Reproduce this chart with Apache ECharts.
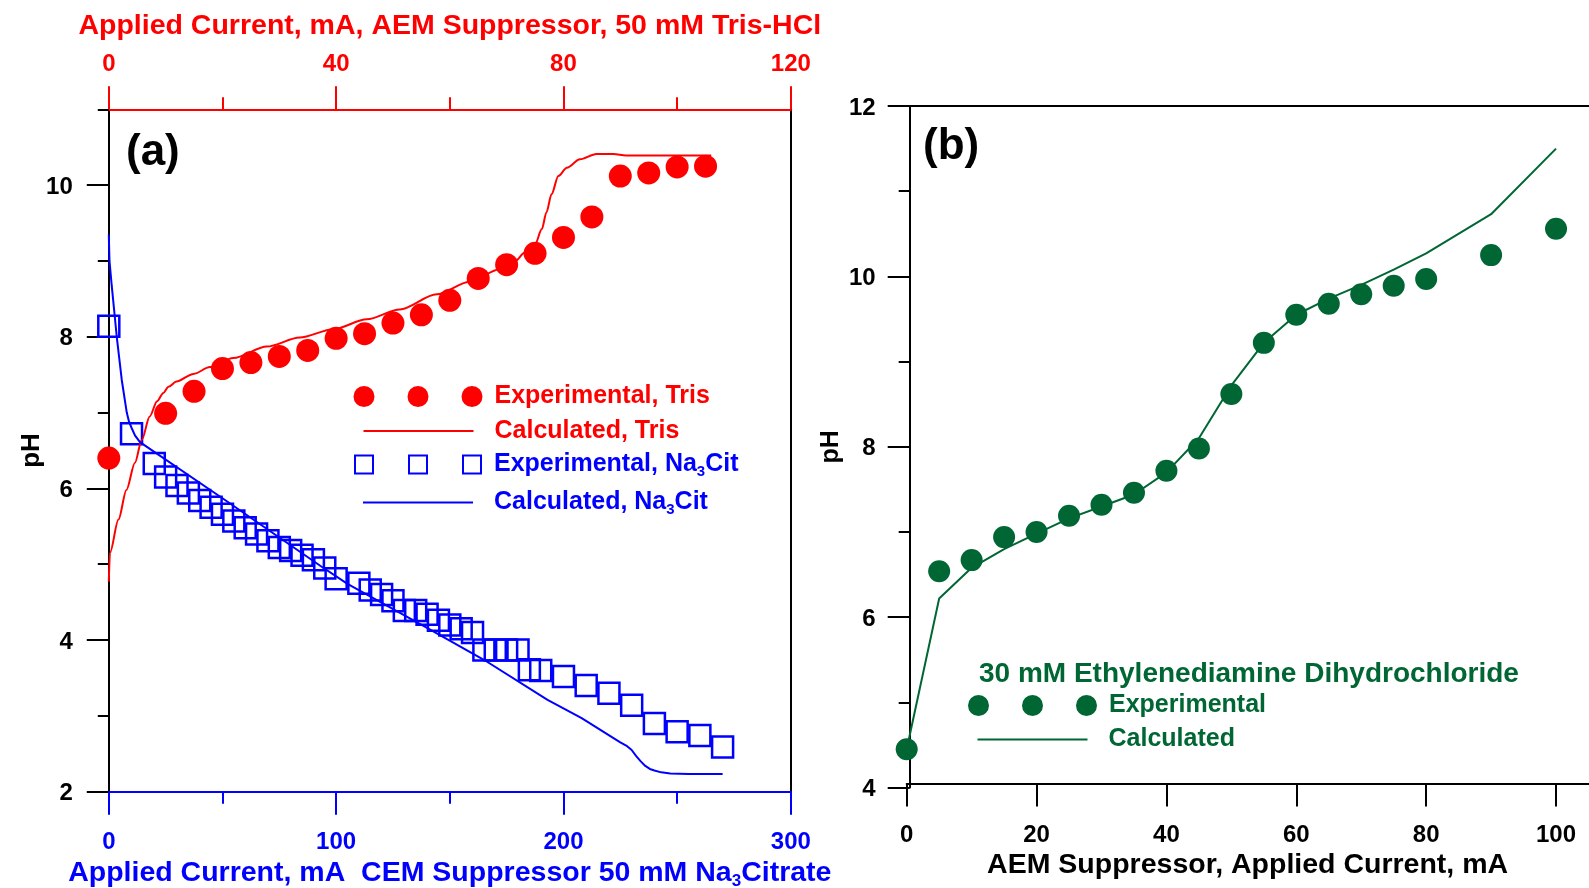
<!DOCTYPE html>
<html>
<head>
<meta charset="utf-8">
<title>pH vs applied current</title>
<script src="https://cdn.jsdelivr.net/npm/echarts@6/dist/echarts.min.js"></script>
<style>
  html, body { margin: 0; padding: 0; background: #ffffff; }
  #chart { width: 1589px; height: 888px; }
</style>
</head>
<body>
<div id="chart"></div>
<script>
// ---- Panel (a): 50 mM Tris-HCl through the AEM suppressor (top current axis, mA)
const trisCurrent = [0, 10, 15, 20, 25, 30, 35, 40, 45, 50, 55, 60, 65, 70, 75, 80, 85, 90, 95, 100, 105];
const trisPH      = [6.40, 6.99, 7.28, 7.58, 7.66, 7.74, 7.82, 7.98, 8.04, 8.18, 8.29, 8.48, 8.77, 8.95, 9.10, 9.31, 9.58, 10.12, 10.16, 10.24, 10.25];

const trisCalcCurrent = [0, 0.2, 1.7, 3.1, 4.6, 5.8, 7.2, 8.5, 9.6, 10.5, 11.9, 14.9, 17.8, 21.9, 27.8, 33.6, 39.5, 45.4, 51.2, 57.7, 63.6, 68.8, 71.5, 73.2, 75, 76.2, 77, 77.9, 79.1, 80.6, 82.9, 85.8, 88.8, 91, 106];
const trisCalcPH      = [4.77, 5.15, 5.59, 5.98, 6.34, 6.64, 6.95, 7.15, 7.26, 7.34, 7.41, 7.51, 7.60, 7.72, 7.87, 7.99, 8.10, 8.23, 8.36, 8.56, 8.73, 8.89, 9.00, 9.11, 9.22, 9.42, 9.64, 9.88, 10.12, 10.23, 10.34, 10.41, 10.41, 10.39, 10.39];

// ---- Panel (a): 50 mM Na3Citrate through the CEM suppressor (bottom current axis, mA)
const citCurrent = [0, 10, 20, 25, 30, 35, 40, 45, 50, 55, 60, 65, 70, 75, 80, 85, 90, 95, 100, 110, 115, 120, 125, 130, 135, 140, 145, 150, 155, 160, 165, 170, 175, 180, 185, 190, 200, 210, 220, 230, 240, 250, 260, 270];
const citPH      = [8.14, 6.72, 6.33, 6.15, 6.04, 5.94, 5.84, 5.75, 5.66, 5.57, 5.48, 5.40, 5.31, 5.22, 5.18, 5.12, 5.06, 4.95, 4.81, 4.75, 4.66, 4.60, 4.52, 4.39, 4.39, 4.34, 4.26, 4.20, 4.15, 4.10, 3.87, 3.87, 3.87, 3.87, 3.61, 3.60, 3.52, 3.40, 3.30, 3.14, 2.90, 2.79, 2.74, 2.59];

const citCalcCurrent = [0, 0.3, 1.3, 3.5, 5.7, 7.9, 8.9, 10, 11.5, 13.7, 50, 93, 105, 140, 165, 193, 208, 225, 228, 230, 232, 234, 236, 238, 240, 243, 247, 255, 270];
const citCalcPH      = [9.35, 9.0, 8.67, 8.0, 7.43, 7.0, 6.88, 6.8, 6.70, 6.61, 5.87, 4.98, 4.74, 4.16, 3.74, 3.21, 2.97, 2.65, 2.60, 2.55, 2.47, 2.40, 2.34, 2.30, 2.28, 2.255, 2.24, 2.235, 2.235];

// ---- Panel (b): 30 mM ethylenediamine dihydrochloride, AEM suppressor
const enCurrent = [0, 5, 10, 15, 20, 25, 30, 35, 40, 45, 50, 55, 60, 65, 70, 75, 80, 90, 100];
const enPH      = [4.45, 6.54, 6.67, 6.94, 7.00, 7.19, 7.32, 7.46, 7.72, 7.98, 8.62, 9.22, 9.55, 9.68, 9.79, 9.89, 9.97, 10.25, 10.56];

const enCalcCurrent = [0, 5, 10, 15, 20, 25, 30, 35, 40, 45, 50, 55, 60, 65, 70, 75, 80, 90, 100];
const enCalcPH      = [4.45, 6.22, 6.58, 6.80, 6.98, 7.16, 7.30, 7.44, 7.70, 8.10, 8.72, 9.22, 9.55, 9.74, 9.90, 10.08, 10.27, 10.73, 11.50];

// ---- Tick values
const phMajorA = [2, 4, 6, 8, 10];
const phMinorA = [3, 5, 7, 9, 11];
const phMajorB = [4, 6, 8, 10, 12];
const phMinorB = [5, 7, 9, 11];
const currentTicksB = [0, 20, 40, 60, 80, 100];

const FONT = '"Liberation Sans", Arial, Helvetica, sans-serif';
const RED = '#ff0000';
const BLUE = '#0000ff';
const GREEN = '#006633';
const BLACK = '#000000';

const zip = (xs, ys) => xs.map((x, i) => [x, ys[i]]);

const tickFont = { fontFamily: FONT, fontWeight: 'bold', fontSize: 24 };
const nameFont = { fontFamily: FONT, fontWeight: 'bold', fontSize: 28.5, lineHeight: 32 };

// y tick labels sit a little low relative to their tick
const yTickLabel = (margin, values) => Object.assign({
  color: BLACK, margin: margin, customValues: values,
  formatter: (v) => '{t|' + v + '}',
  rich: { t: Object.assign({ color: BLACK, padding: [4, 0, 0, 0] }, tickFont) }
}, tickFont);

// legend keys: three circles, three open squares, a short line
const threeCircles = 'path://M0,10.5a10.5,10.5 0 1,0 21,0a10.5,10.5 0 1,0 -21,0Z' +
  'M54,10.5a10.5,10.5 0 1,0 21,0a10.5,10.5 0 1,0 -21,0Z' +
  'M108,10.5a10.5,10.5 0 1,0 21,0a10.5,10.5 0 1,0 -21,0Z';
function squareRing(x) {
  return 'M' + x + ',0L' + (x + 20) + ',0L' + (x + 20) + ',20L' + x + ',20Z' +
         'M' + (x + 2) + ',2L' + (x + 2) + ',18L' + (x + 18) + ',18L' + (x + 18) + ',2Z';
}
const threeSquares = 'path://' + squareRing(0) + squareRing(54) + squareRing(108);
const shortLine = 'path://M0,0L110,0L110,2L0,2Z';

const subStyle = (color) => ({
  sub: { fontFamily: FONT, fontWeight: 'bold', fontSize: 15, lineHeight: 11, padding: [15, 0, 0, 0], color: color }
});

function legendEntry(name, label, icon, iconWidth, left, centerY, color, gap) {
  return {
    data: [{ name: name, icon: icon, itemStyle: { color: color, borderWidth: 0, borderColor: 'transparent', opacity: 1 } }],
    left: left,
    top: centerY - 13,
    orient: 'horizontal',
    padding: 0,
    itemWidth: iconWidth,
    itemHeight: 26,
    selectedMode: false,
    formatter: () => label,
    textStyle: {
      color: color, fontFamily: FONT, fontWeight: 'bold', fontSize: 25, lineHeight: 26,
      padding: [0, 0, 0, gap], rich: subStyle(color)
    }
  };
}

const chart = echarts.init(document.getElementById('chart'), null, { renderer: 'canvas' });

chart.setOption({
  animation: false,
  backgroundColor: '#ffffff',
  textStyle: { fontFamily: FONT },
  title: [
    { text: '(a)', left: 126, top: 131, padding: 0,
      textStyle: { fontFamily: FONT, fontWeight: 'bold', fontSize: 44, lineHeight: 44, color: BLACK } },
    { text: '(b)', left: 923, top: 125, padding: 0,
      textStyle: { fontFamily: FONT, fontWeight: 'bold', fontSize: 44, lineHeight: 44, color: BLACK } },
    { text: '30 mM Ethylenediamine Dihydrochloride', left: 979, top: 658, padding: 0,
      textStyle: { fontFamily: FONT, fontWeight: 'bold', fontSize: 28, lineHeight: 32, color: GREEN } }
  ],
  legend: [
    legendEntry('Experimental, Tris', 'Experimental, Tris', threeCircles, 129, 353.5, 396.5, RED, 7),
    legendEntry('Calculated, Tris', 'Calculated, Tris', shortLine, 110, 363.5, 431, RED, 16),
    legendEntry('Experimental, Na3Cit', 'Experimental, Na{sub|3}Cit', threeSquares, 128, 354, 462.5, BLUE, 7),
    legendEntry('Calculated, Na3Cit', 'Calculated, Na{sub|3}Cit', shortLine, 110, 363, 500.5, BLUE, 16),
    legendEntry('Experimental', 'Experimental', threeCircles, 129, 968, 705.5, GREEN, 7),
    legendEntry('Calculated', 'Calculated', shortLine, 110, 977.5, 739.5, GREEN, 16)
  ],
  grid: [
    { left: 108.8, top: 109.3, width: 682, height: 682.4, outerBoundsMode: 'none', containLabel: false },
    { left: 906.7, top: 106, width: 681.8, height: 681.6, outerBoundsMode: 'none', containLabel: false }
  ],
  xAxis: [
    { // (a) bottom: CEM suppressor current
      gridIndex: 0, type: 'value', position: 'bottom', min: 0, max: 300, interval: 100,
      axisLine: { show: true, onZero: false, lineStyle: { color: BLUE, width: 2 } },
      axisTick: { show: true, inside: false, length: 23, lineStyle: { color: BLUE, width: 2 } },
      minorTick: { show: true, splitNumber: 2, length: 12, lineStyle: { color: BLUE, width: 2 } },
      axisLabel: Object.assign({ color: BLUE, margin: 39 }, tickFont),
      splitLine: { show: false }, minorSplitLine: { show: false },
      name: 'Applied Current, mA  CEM Suppressor 50 mM Na{sub|3}Citrate',
      nameLocation: 'middle', nameGap: 65, nameMoveOverlap: false,
      nameTextStyle: Object.assign({ color: BLUE, rich: {
        sub: { fontFamily: FONT, fontWeight: 'bold', fontSize: 17, lineHeight: 14, padding: [18, 0, 0, 0], color: BLUE }
      } }, nameFont)
    },
    { // (a) top: AEM suppressor current
      gridIndex: 0, type: 'value', position: 'top', min: 0, max: 120, interval: 40,
      axisLine: { show: true, onZero: false, lineStyle: { color: RED, width: 2 } },
      axisTick: { show: true, inside: false, length: 23, lineStyle: { color: RED, width: 2 } },
      minorTick: { show: true, splitNumber: 2, length: 12, lineStyle: { color: RED, width: 2 } },
      axisLabel: Object.assign({ color: RED, margin: 33 }, tickFont),
      splitLine: { show: false }, minorSplitLine: { show: false },
      name: 'Applied Current, mA, AEM Suppressor, 50 mM Tris-HCl',
      nameLocation: 'middle', nameGap: 67, nameMoveOverlap: false,
      nameTextStyle: Object.assign({ color: RED }, nameFont)
    },
    { // (b) bottom
      gridIndex: 1, type: 'value', position: 'bottom', min: 0, max: 105, offset: -4,
      axisLine: { show: true, onZero: false, lineStyle: { color: BLACK, width: 2 } },
      axisTick: { show: true, inside: false, length: 23, customValues: currentTicksB, lineStyle: { color: BLACK, width: 2 } },
      axisLabel: Object.assign({ color: BLACK, margin: 40, customValues: currentTicksB }, tickFont),
      splitLine: { show: false },
      name: 'AEM Suppressor, Applied Current, mA',
      nameLocation: 'middle', nameGap: 66, nameMoveOverlap: false,
      nameTextStyle: Object.assign({ color: BLACK }, nameFont)
    },
    { // (b) top frame line
      gridIndex: 1, type: 'value', position: 'top', min: 0, max: 105,
      axisLine: { show: true, onZero: false, lineStyle: { color: BLACK, width: 2 } },
      axisTick: { show: false }, axisLabel: { show: false }, splitLine: { show: false }
    }
  ],
  yAxis: [
    { // (a) pH, major ticks and labels
      gridIndex: 0, type: 'value', position: 'left', min: 2, max: 11,
      axisLine: { show: true, onZero: false, lineStyle: { color: BLACK, width: 2 } },
      axisTick: { show: true, inside: false, length: 22, customValues: phMajorA, lineStyle: { color: BLACK, width: 2 } },
      axisLabel: yTickLabel(36, phMajorA),
      splitLine: { show: false },
      name: 'pH', nameLocation: 'middle', nameRotate: 90, nameGap: 64, nameMoveOverlap: false,
      nameTextStyle: { color: BLACK, fontFamily: FONT, fontWeight: 'bold', fontSize: 26 }
    },
    { // (a) pH, minor ticks
      gridIndex: 0, type: 'value', position: 'left', min: 2, max: 11,
      axisLine: { show: false },
      axisTick: { show: true, inside: false, length: 11, customValues: phMinorA, lineStyle: { color: BLACK, width: 2 } },
      axisLabel: { show: false }, splitLine: { show: false }
    },
    { // (a) right frame line
      gridIndex: 0, type: 'value', position: 'right', min: 2, max: 11,
      axisLine: { show: true, onZero: false, lineStyle: { color: BLACK, width: 2 } },
      axisTick: { show: false }, axisLabel: { show: false }, splitLine: { show: false }
    },
    { // (b) pH, major ticks and labels
      gridIndex: 1, type: 'value', position: 'left', min: 4, max: 12, offset: -3,
      axisLine: { show: true, onZero: false, lineStyle: { color: BLACK, width: 2 } },
      axisTick: { show: true, inside: false, length: 22, customValues: phMajorB, lineStyle: { color: BLACK, width: 2 } },
      axisLabel: yTickLabel(34, phMajorB),
      splitLine: { show: false },
      name: 'pH', nameLocation: 'middle', nameRotate: 90, nameGap: 66, nameMoveOverlap: false,
      nameTextStyle: { color: BLACK, fontFamily: FONT, fontWeight: 'bold', fontSize: 25 }
    },
    { // (b) pH, minor ticks
      gridIndex: 1, type: 'value', position: 'left', min: 4, max: 12, offset: -3,
      axisLine: { show: false },
      axisTick: { show: true, inside: false, length: 11, customValues: phMinorB, lineStyle: { color: BLACK, width: 2 } },
      axisLabel: { show: false }, splitLine: { show: false }
    }
  ],
  series: [
    {
      name: 'Calculated, Tris', type: 'line', xAxisIndex: 1, yAxisIndex: 0,
      data: zip(trisCalcCurrent, trisCalcPH), symbol: 'none', showSymbol: false,
      smooth: 0.3, smoothMonotone: 'x', clip: false, silent: true,
      lineStyle: { color: RED, width: 2 }, itemStyle: { color: RED }
    },
    {
      name: 'Experimental, Tris', type: 'scatter', xAxisIndex: 1, yAxisIndex: 0,
      data: zip(trisCurrent, trisPH), symbol: 'circle', symbolSize: 23, clip: false, silent: true,
      itemStyle: { color: RED, opacity: 1 }
    },
    {
      name: 'Calculated, Na3Cit', type: 'line', xAxisIndex: 0, yAxisIndex: 0,
      data: zip(citCalcCurrent, citCalcPH), symbol: 'none', showSymbol: false,
      smooth: false, clip: false, silent: true,
      lineStyle: { color: BLUE, width: 2 }, itemStyle: { color: BLUE }
    },
    {
      name: 'Experimental, Na3Cit', type: 'scatter', xAxisIndex: 0, yAxisIndex: 0,
      data: zip(citCurrent, citPH), symbol: 'rect', symbolSize: 21, clip: false, silent: true,
      itemStyle: { color: 'rgba(255,255,255,0)', borderColor: BLUE, borderWidth: 2.5, opacity: 1 }
    },
    {
      name: 'Calculated', type: 'line', xAxisIndex: 2, yAxisIndex: 3,
      data: zip(enCalcCurrent, enCalcPH), symbol: 'none', showSymbol: false,
      clip: false, silent: true,
      lineStyle: { color: GREEN, width: 2 }, itemStyle: { color: GREEN }
    },
    {
      name: 'Experimental', type: 'scatter', xAxisIndex: 2, yAxisIndex: 3,
      data: zip(enCurrent, enPH), symbol: 'circle', symbolSize: 22, clip: false, silent: true,
      itemStyle: { color: GREEN, opacity: 1 }
    }
  ]
});
</script>
</body>
</html>
